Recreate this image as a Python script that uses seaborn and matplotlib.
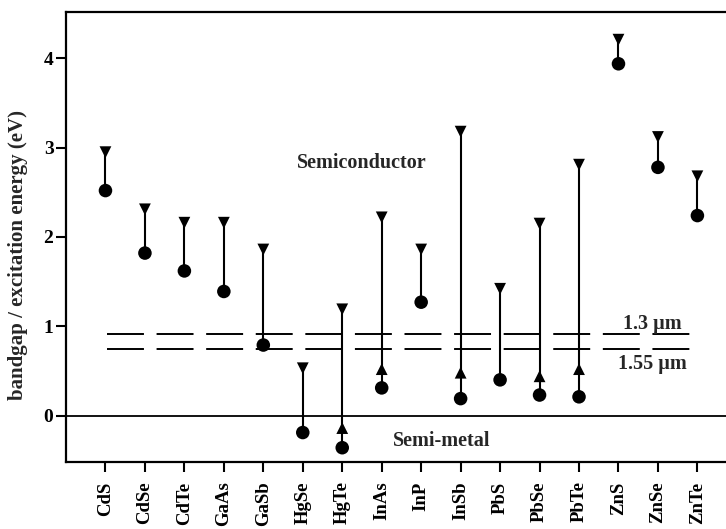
import numpy as np
import pandas as pd
import matplotlib
matplotlib.use("Agg")
import matplotlib.pyplot as plt
import seaborn as sns

sns.set_theme(style="ticks")
plt.rcParams["font.family"] = ["Liberation Serif", "DejaVu Serif"]
plt.rcParams["font.weight"] = "bold"

# values (eV)
materials = ["CdS", "CdSe", "CdTe", "GaAs", "GaSb", "HgSe", "HgTe", "InAs",
             "InP", "InSb", "PbS", "PbSe", "PbTe", "ZnS", "ZnSe", "ZnTe"]
excitation_ev = [2.95, 2.31, 2.16, 2.16, 1.86, 0.53, 1.19, 2.22,
                 1.86, 3.18, 1.42, 2.15, 2.81, 4.21, 3.12, 2.68]
bandgap_ev = [2.52, 1.82, 1.62, 1.39, 0.79, -0.19, -0.36, 0.31,
              1.27, 0.19, 0.40, 0.23, 0.21, 3.94, 2.78, 2.24]
mid_materials = ["HgTe", "InAs", "InSb", "PbSe", "PbTe"]
mid_ev = [-0.14, 0.52, 0.48, 0.44, 0.52]

# telecom wavelengths drawn as dashed lines
telecom_labels = ["1.3 µm", "1.55 µm"]
telecom_ev = [0.91, 0.75]

pos = {m: i for i, m in enumerate(materials)}
df = pd.concat([
    pd.DataFrame({"material": materials, "energy": excitation_ev, "kind": "top"}),
    pd.DataFrame({"material": materials, "energy": bandgap_ev, "kind": "bottom"}),
    pd.DataFrame({"material": mid_materials, "energy": mid_ev, "kind": "mid"}),
], ignore_index=True)
df["pos"] = df["material"].map(pos)

fig = plt.figure(figsize=(7.26, 5.29), dpi=100)
ax = fig.add_axes([66 / 726, 1 - 462 / 529, 661 / 726, 450 / 529])

# vertical bars from bandgap to excitation energy
ax.vlines([pos[m] for m in materials], bandgap_ev, excitation_ev,
          color="black", lw=1.5, zorder=2)

sns.scatterplot(data=df, x="pos", y="energy", style="kind", size="kind",
                markers={"top": "v", "bottom": "o", "mid": "^"},
                sizes={"top": 72, "bottom": 95, "mid": 72},
                color="black", edgecolor="black", linewidth=0,
                legend=False, ax=ax, zorder=3)

ax.axhline(0, color="black", lw=1.3, zorder=1)
for ev in telecom_ev:
    ax.hlines(ev, 0.04, 14.83, color="black", lw=1.4,
              linestyle=(0, (19.0, 6.5)), zorder=1)

txt = dict(ha="center", va="center", fontsize=14.5, fontweight="bold")
ax.text(6.5, 2.83, "Semiconductor", **txt)
ax.text(8.52, -0.29, "Semi-metal", **txt)
ax.text(13.85, 1.03, telecom_labels[0], **txt)
ax.text(13.85, 0.58, telecom_labels[1], **txt)

ax.set_xlim(-1.0, 15.75)
ax.set_ylim(-0.52, 4.52)
ax.set_xticks(range(len(materials)))
ax.set_xticklabels(materials, rotation=90, fontsize=13.5, fontweight="bold")
ax.set_yticks([0, 1, 2, 3, 4])
ax.set_yticklabels(["0", "1", "2", "3", "4"], fontsize=14, fontweight="bold")
ax.tick_params(axis="x", direction="out", length=7, width=1.5, pad=7, colors="black")
ax.tick_params(axis="y", direction="out", length=7, width=1.5, pad=2, colors="black")
ax.set_xlabel("")
ax.set_ylabel("bandgap / excitation energy (eV)", fontsize=15, fontweight="bold")
ax.yaxis.set_label_coords(-0.058, 0.46)

for side in ["left", "top", "bottom"]:
    ax.spines[side].set_linewidth(1.6)
    ax.spines[side].set_color("black")
ax.spines["right"].set_visible(False)

fig.savefig("out.png", dpi=100)
